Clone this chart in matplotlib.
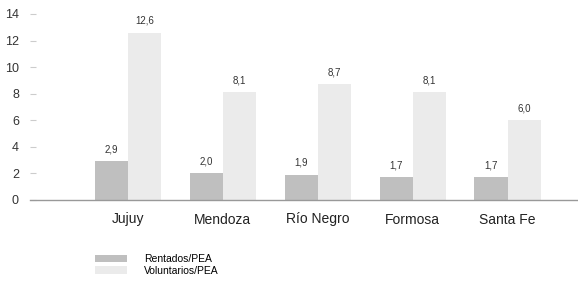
import numpy as np
import matplotlib.pyplot as plt

provincias = ["Jujuy", "Mendoza", "Río Negro", "Formosa", "Santa Fe"]
rentados = [2.9, 2.0, 1.9, 1.7, 1.7]
voluntarios = [12.6, 8.1, 8.7, 8.1, 6.0]
yticks = [0, 2, 4, 6, 8, 10, 12, 14]

plt.rcParams['font.family'] = ['Liberation Sans', 'DejaVu Sans']

fig = plt.figure(figsize=(5.78, 2.82), dpi=100)
ax = fig.add_axes([30/578, 82/282, 548/578, 186/282])

x = np.arange(len(provincias))
w = 0.35
c_dark = "#bfbfbf"
c_light = "#ebebeb"

b1 = ax.bar(x - w/2, rentados, w, color=c_dark, label="Rentados/PEA")
b2 = ax.bar(x + w/2, voluntarios, w, color=c_light, label="Voluntarios/PEA")

for bars, vals in [(b1, rentados), (b2, voluntarios)]:
    for r, v in zip(bars, vals):
        ax.annotate(f"{v:.1f}".replace(".", ","), (r.get_x() + r.get_width()/2, v),
                    xytext=(0, 5), textcoords="offset points",
                    ha="center", va="bottom", fontsize=7, color="#333333")

ax.set_xlim(-1.03, 4.74)
ax.set_ylim(0, 14)
ax.set_yticks(yticks)
ax.set_xticks(x)
ax.set_xticklabels(provincias, fontsize=10, color="#222222")
ax.tick_params(axis="x", length=0, pad=9)
ax.tick_params(axis="y", direction="in", length=4, color="#cccccc", pad=8,
               labelsize=9, labelcolor="#333333")

for s in ["top", "right", "left"]:
    ax.spines[s].set_visible(False)
ax.spines["bottom"].set_color("#999999")
ax.spines["bottom"].set_linewidth(1)

fig.legend(handles=[b1, b2], loc="upper left", bbox_to_anchor=(91/578, 1 - 250/282),
           frameon=False, fontsize=7.5, handlelength=3.1, handleheight=0.75,
           labelspacing=0.15, handletextpad=1.6, borderaxespad=0)

fig.savefig("out.png", dpi=100)
